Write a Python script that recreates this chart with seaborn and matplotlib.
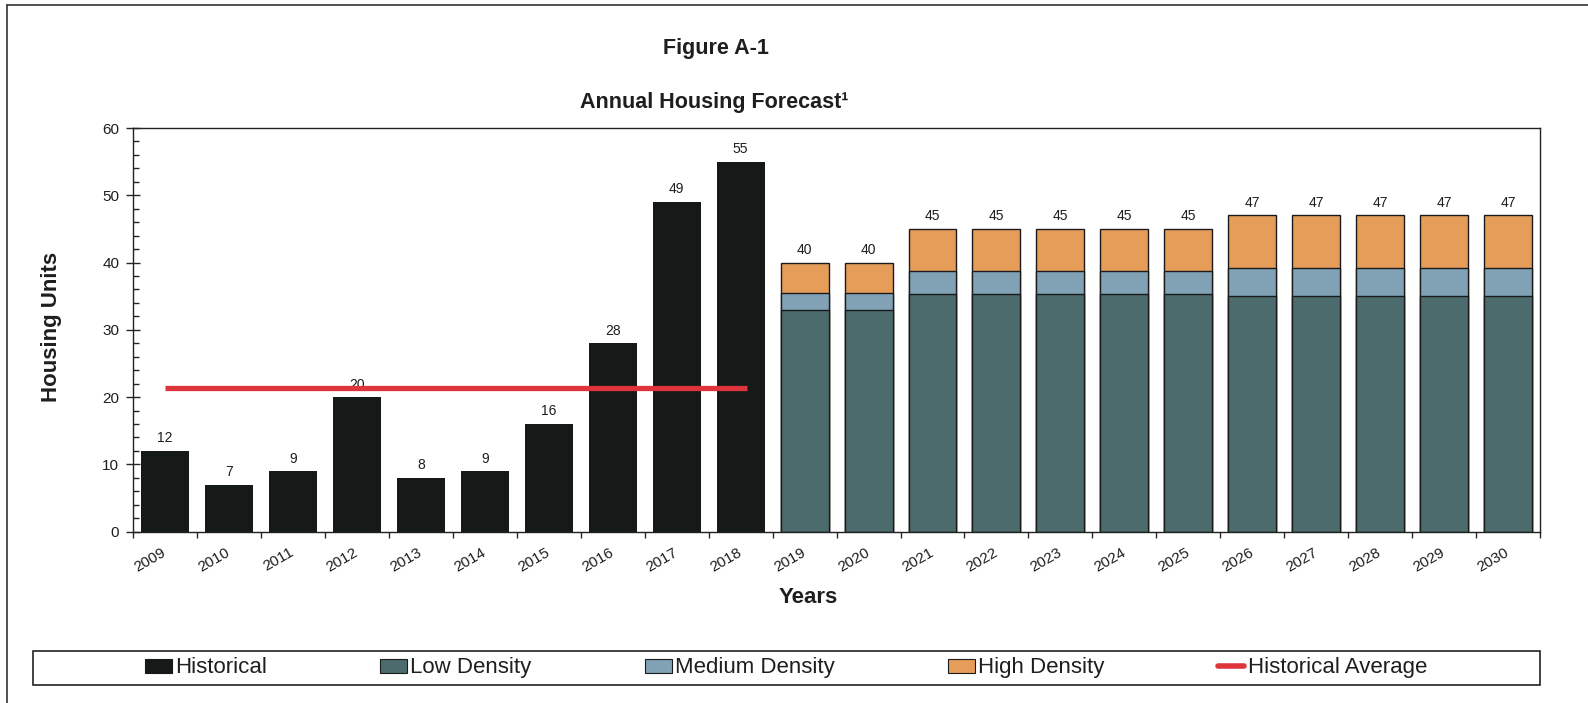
import numpy as np
import pandas as pd
import matplotlib
matplotlib.use("Agg")
import matplotlib.pyplot as plt
from matplotlib.patches import Patch, Rectangle
from matplotlib.lines import Line2D
from matplotlib.ticker import MultipleLocator, FixedLocator
import seaborn as sns

# ---- data ---------------------------------------------------------------
years = [str(y) for y in range(2009, 2031)]
hist_years = years[:10]
historical = [12, 7, 9, 20, 8, 9, 16, 28, 49, 55]

forecast_years = years[10:]
low_density = [33, 33, 35.3, 35.3, 35.3, 35.3, 35.3, 35, 35, 35, 35, 35]
medium_density = [2.5, 2.5, 3.4, 3.4, 3.4, 3.4, 3.4, 4.2, 4.2, 4.2, 4.2, 4.2]
high_density = [4.5, 4.5, 6.3, 6.3, 6.3, 6.3, 6.3, 7.8, 7.8, 7.8, 7.8, 7.8]

legend_labels = ["Historical", "Low Density", "Medium Density",
                 "High Density", "Historical Average"]

# ---- styling ------------------------------------------------------------
sns.set_style("ticks")
plt.rcParams["font.family"] = ["Liberation Sans", "DejaVu Sans"]

c_hist = "#151918"
c_low = "#4c6b6c"
c_med = "#80a2b4"
c_high = "#e69d5a"
c_avg = "#e0343c"
c_edge = "#1b1b1b"
c_text = "#1e1e1e"

hist_df = pd.DataFrame({"year": hist_years, "units": historical})
fc_df = pd.DataFrame({"year": forecast_years, "low": low_density,
                      "medium": medium_density, "high": high_density})
fc_df["low_med"] = fc_df["low"] + fc_df["medium"]
fc_df["total"] = fc_df["low_med"] + fc_df["high"]

fig = plt.figure(figsize=(15.88, 7.03), dpi=100)
ax = fig.add_axes([0.0838, 0.2437, 0.9698 - 0.0838, 0.8179 - 0.2437])

bw = 0.75
sns.barplot(data=hist_df, x="year", y="units", order=years, color=c_hist,
            saturation=1, width=bw, linewidth=0, ax=ax, errorbar=None)
# stacked forecast: draw cumulative layers from the top down
for col, colr in [("total", c_high), ("low_med", c_med), ("low", c_low)]:
    sns.barplot(data=fc_df, x="year", y=col, order=years, color=colr,
                saturation=1, width=bw, edgecolor=c_edge, linewidth=1.0,
                ax=ax, errorbar=None)

ax.bar_label(ax.containers[0], fmt="%.0f", padding=4, fontsize=10,
             color=c_text)
ax.bar_label(ax.containers[1], fmt="%.0f", padding=4, fontsize=10,
             color=c_text)

# historical average line over the historical years
avg = float(np.mean(historical))
ax.hlines(avg, years.index(hist_years[0]), years.index(hist_years[-1]) + 0.1,
          color=c_avg, lw=3.8, zorder=5)

# ---- axes ---------------------------------------------------------------
ax.set_xlim(-0.5, len(years) - 0.5)
ax.set_ylim(0, 60)
ax.yaxis.set_major_locator(MultipleLocator(10))
ax.yaxis.set_minor_locator(MultipleLocator(2))
ax.tick_params(axis="y", which="major", direction="inout", length=10,
               width=1, labelsize=11, pad=5, labelcolor=c_text)
ax.tick_params(axis="y", which="minor", direction="in", length=4, width=1)

ax.set_xticks(range(len(years)))
ax.set_xticklabels(years, rotation=30, ha="right", va="center",
                   rotation_mode="anchor", fontsize=11, color=c_text)
ax.tick_params(axis="x", which="major", length=0, pad=14)
ax.xaxis.set_minor_locator(FixedLocator(np.arange(-0.5, len(years), 1.0)))
ax.tick_params(axis="x", which="minor", direction="out", length=4, width=1)

for s in ax.spines.values():
    s.set_visible(True)
    s.set_linewidth(1.0)
    s.set_color("#222222")
ax.set_xlabel("")
ax.set_ylabel("")

# ---- titles and labels --------------------------------------------------
fig.text(0.4509, 0.9317, "Figure A-1", ha="center", va="center",
         fontsize=15.5, fontweight="bold", color=c_text)
fig.text(0.4496, 0.8549, "Annual Housing Forecast\u00b9", ha="center",
         va="center", fontsize=15.5, fontweight="bold", color=c_text)
fig.text(0.0327, 0.5349, "Housing Units", rotation=90, ha="center",
         va="center", fontsize=16, fontweight="bold", color=c_text)
fig.text(0.5088, 0.1494, "Years", ha="center", va="center",
         fontsize=16, fontweight="bold", color=c_text)

# ---- legend -------------------------------------------------------------
handles = [
    Patch(facecolor=c_hist, edgecolor=c_edge, lw=0.8),
    Patch(facecolor=c_low, edgecolor=c_edge, lw=0.8),
    Patch(facecolor=c_med, edgecolor=c_edge, lw=0.8),
    Patch(facecolor=c_high, edgecolor=c_edge, lw=0.8),
    Line2D([0], [0], color=c_avg, lw=4),
]
fig.legend(handles, legend_labels, loc="center", ncol=5,
           bbox_to_anchor=(0.495, 0.0498), frameon=False, fontsize=16,
           handlelength=1.2, handleheight=0.6, handletextpad=0.15,
           columnspacing=5.1, labelcolor=c_text)
fig.add_artist(Rectangle((0.0208, 0.0256), 0.949, 0.0484,
                         transform=fig.transFigure, fill=False,
                         edgecolor="#222222", lw=1.2))

# page frame
fig.add_artist(Line2D([7 / 1588, 7 / 1588], [0, 1 - 5 / 703],
                      transform=fig.transFigure, color="#333333", lw=1.2))
fig.add_artist(Line2D([7 / 1588, 1], [1 - 5 / 703, 1 - 5 / 703],
                      transform=fig.transFigure, color="#333333", lw=1.2))

fig.savefig("out.png", dpi=100, facecolor="white")
